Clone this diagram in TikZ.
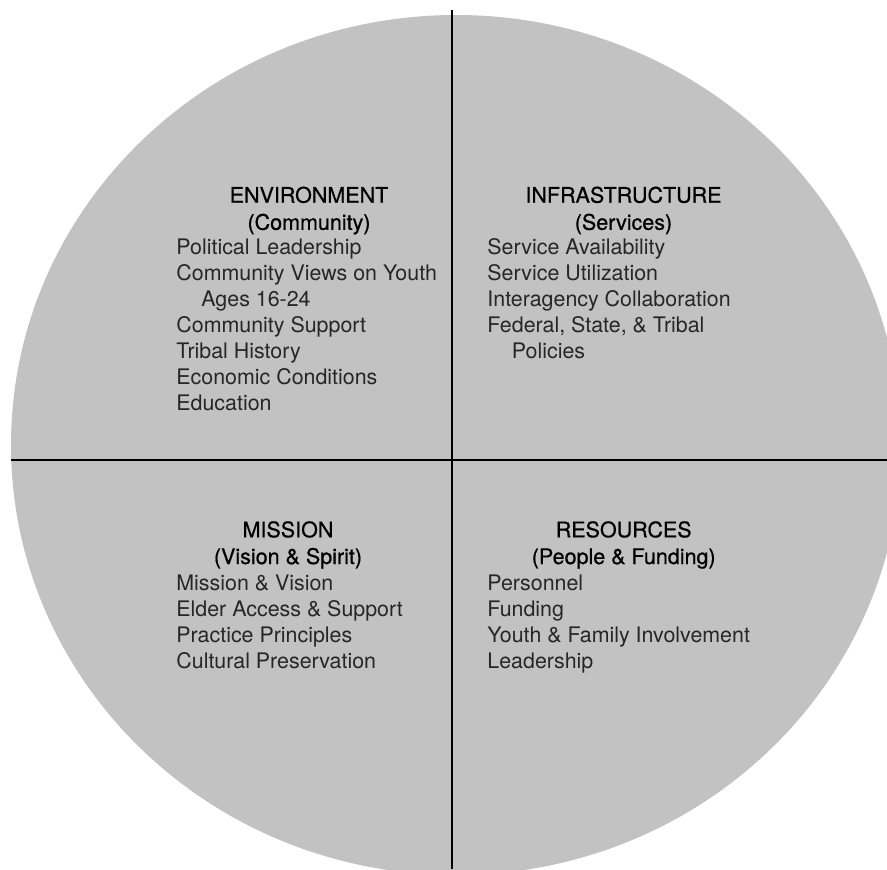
\documentclass[tikz,border=0pt]{standalone}
\usepackage{fontspec}
\setmainfont{TeX Gyre Heros}
\newfontfamily\headfont[FakeBold=0.6]{TeX Gyre Heros}
\definecolor{discfill}{RGB}{194,194,194}
\definecolor{itemink}{RGB}{38,38,38}
\begin{document}
\begin{tikzpicture}[x=0.5pt,y=-0.5pt,
  heading/.style={anchor=base, inner sep=0pt, font=\headfont\fontsize{10.75}{13}\selectfont, text=black},
  entry/.style={anchor=base west, inner sep=0pt, font=\fontsize{10.7}{13}\selectfont, text=itemink},
  divider/.style={line width=1pt, draw=black}]
\useasboundingbox (0,0) rectangle (887,869);
% the disc, partly cut off by the page edges
\begin{scope}
  \clip (0,0) rectangle (887,869);
  \fill[discfill] (456,445) ellipse [x radius=445, y radius=430];
\end{scope}
% quadrant dividers
\coordinate (vtop) at (452,10);
\coordinate (vbot) at (452,869);
\coordinate (hleft) at (11,460);
\coordinate (hright) at (887,460);
\draw[divider] (vtop) -- (vbot);
\draw[divider] (hleft) -- (hright);

% upper left: environment
\node[heading] (envA) at (309,202.7) {ENVIRONMENT};
\node[heading] (envB) at (309,229.8) {(Community)};
\node[entry] (env1) at (176,254.0) {Political Leadership};
\node[entry] (env2) at (176,280.1) {Community Views on Youth};
\node[entry] (env3) at (201,306.2) {Ages 16-24};
\node[entry] (env4) at (176,332.3) {Community Support};
\node[entry] (env5) at (176,358.4) {Tribal History};
\node[entry] (env6) at (176,384.5) {Economic Conditions};
\node[entry] (env7) at (176,410.6) {Education};

% upper right: infrastructure
\node[heading] (infA) at (623.5,202.7) {INFRASTRUCTURE};
\node[heading] (infB) at (623.5,229.8) {(Services)};
\node[entry] (inf1) at (487,254.0) {Service Availability};
\node[entry] (inf2) at (487,280.1) {Service Utilization};
\node[entry] (inf3) at (487,306.2) {Interagency Collaboration};
\node[entry] (inf4) at (487,332.3) {Federal, State, \& Tribal};
\node[entry] (inf5) at (511.5,358.4) {Policies};

% lower left: mission
\node[heading] (misA) at (288,537.3) {MISSION};
\node[heading] (misB) at (288,564.0) {(Vision \& Spirit)};
\node[entry] (mis1) at (176,590.0) {Mission \& Vision};
\node[entry] (mis2) at (176,616.2) {Elder Access \& Support};
\node[entry] (mis3) at (176,642.4) {Practice Principles};
\node[entry] (mis4) at (176,668.6) {Cultural Preservation};

% lower right: resources
\node[heading] (resA) at (623.7,537.3) {RESOURCES};
\node[heading] (resB) at (623.7,564.0) {(People \& Funding)};
\node[entry] (res1) at (487,590.0) {Personnel};
\node[entry] (res2) at (487,616.2) {Funding};
\node[entry] (res3) at (487,642.4) {Youth \& Family Involvement};
\node[entry] (res4) at (487,668.6) {Leadership};
\end{tikzpicture}
\end{document}
